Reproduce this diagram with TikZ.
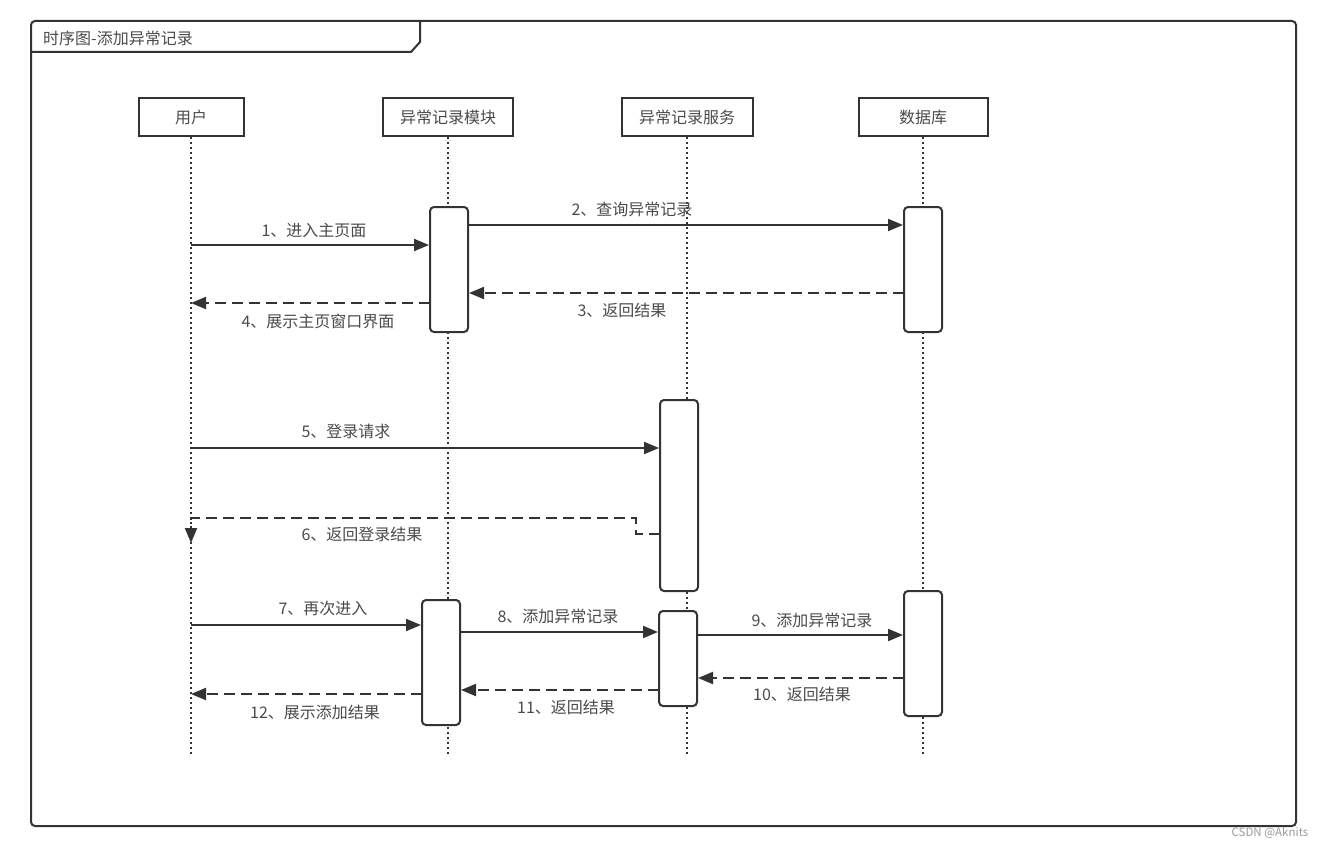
\documentclass[tikz,border=0pt]{standalone}
\usepackage{fontspec}
\setmainfont{Noto Sans CJK SC}
\usetikzlibrary{arrows.meta}
\definecolor{ink}{HTML}{333333}
\definecolor{txt}{HTML}{4A4A4A}
\tikzset{
  head/.style={draw=ink, line width=2pt, minimum width=105pt, minimum height=38pt, inner sep=0pt, font=\fontsize{16}{18}\selectfont, text=txt},
  act/.style={draw=ink, fill=white, line width=2pt, rounded corners=4pt, minimum width=38pt, inner sep=0pt},
  life/.style={draw=ink, line width=2pt, dash pattern=on 2pt off 3pt},
  msg/.style={draw=ink, line width=2pt, -{Triangle[length=15pt,width=12pt]}},
  ret/.style={msg, dash pattern=on 11pt off 6pt},
  lbl/.style={font=\fontsize{16}{18}\selectfont, text=txt, inner sep=0pt}
}
\begin{document}
\begin{tikzpicture}[x=1pt,y=-1pt]
\useasboundingbox (0,0) rectangle (1324,848);
% frame
\draw[ink, line width=2pt, rounded corners=4pt] (31,21) rectangle (1296,826);
\draw[ink, line width=2pt] (31,52) -- (411,52) -- (420,42) -- (420,21);
\node[lbl, anchor=west] (title) at (43,38) {时序图-添加异常记录};
% heads
\node[head] (u) at (191,117) {用户};
\node[head, minimum width=130pt] (m) at (448,117) {异常记录模块};
\node[head, minimum width=131pt] (s) at (687,117) {异常记录服务};
\node[head, minimum width=129pt] (d) at (923,117) {数据库};
% lifeline ends
\coordinate (ue) at (191,755);
\coordinate (me) at (448,755);
\coordinate (se) at (687,755);
\coordinate (de) at (923,755);
\draw[life] (u.south) -- (ue);
\draw[life] (m.south) -- (me);
\draw[life] (s.south) -- (se);
\draw[life] (d.south) -- (de);
% activations
\node[act, minimum height=125pt] (a1) at (449,269.5) {};
\node[act, minimum height=125pt] (d1) at (923,269.5) {};
\node[act, minimum height=191pt] (s1) at (679,495.5) {};
\node[act, minimum height=125pt] (a2) at (441,662.5) {};
\node[act, minimum height=95pt] (s2) at (678,658.5) {};
\node[act, minimum height=125pt] (d2) at (923,653.5) {};
% messages
\coordinate (p1) at (191,245);
\draw[msg] (p1) -- (a1.west |- p1);
\node[lbl] (l1) at (314,230) {1、进入主页面};
\coordinate (p2) at (468,225);
\draw[msg] (p2) -- (d1.west |- p2);
\node[lbl] (l2) at (632,209) {2、查询异常记录};
\coordinate (p3) at (904,293);
\draw[ret] (p3) -- (a1.east |- p3);
\node[lbl] (l3) at (622,310) {3、返回结果};
\coordinate (p4) at (430,303);
\draw[ret] (p4) -- (u |- p4);
\node[lbl] (l4) at (318,321) {4、展示主页窗口界面};
\coordinate (p5) at (191,448);
\draw[msg] (p5) -- (s1.west |- p5);
\node[lbl] (l5) at (346,431) {5、登录请求};
\coordinate (p6) at (660,534);
\coordinate (p6b) at (636,518);
\coordinate (p6e) at (191,543);
\draw[ret] (p6) -- (p6 -| p6b) -- (p6b) -- (p6b -| p6e) -- (p6e);
\node[lbl] (l6) at (362,534) {6、返回登录结果};
\coordinate (p7) at (191,625);
\draw[msg] (p7) -- (a2.west |- p7);
\node[lbl] (l7) at (323,608) {7、再次进入};
\coordinate (p8) at (460,632);
\draw[msg] (p8) -- (s2.west |- p8);
\node[lbl] (l8) at (558,616) {8、添加异常记录};
\coordinate (p9) at (697,635);
\draw[msg] (p9) -- (d2.west |- p9);
\node[lbl] (l9) at (812,620) {9、添加异常记录};
\coordinate (p10) at (904,678);
\draw[ret] (p10) -- (s2.east |- p10);
\node[lbl] (l10) at (802,694) {10、返回结果};
\coordinate (p11) at (659,690);
\draw[ret] (p11) -- (a2.east |- p11);
\node[lbl] (l11) at (566,707) {11、返回结果};
\coordinate (p12) at (422,694);
\draw[ret] (p12) -- (u |- p12);
\node[lbl] (l12) at (315,712) {12、展示添加结果};
% watermark
\node[font=\fontsize{11.5}{13}\selectfont, text=gray!80, inner sep=0pt] (wm) at (1270,833) {CSDN @Aknits};
\end{tikzpicture}
\end{document}
